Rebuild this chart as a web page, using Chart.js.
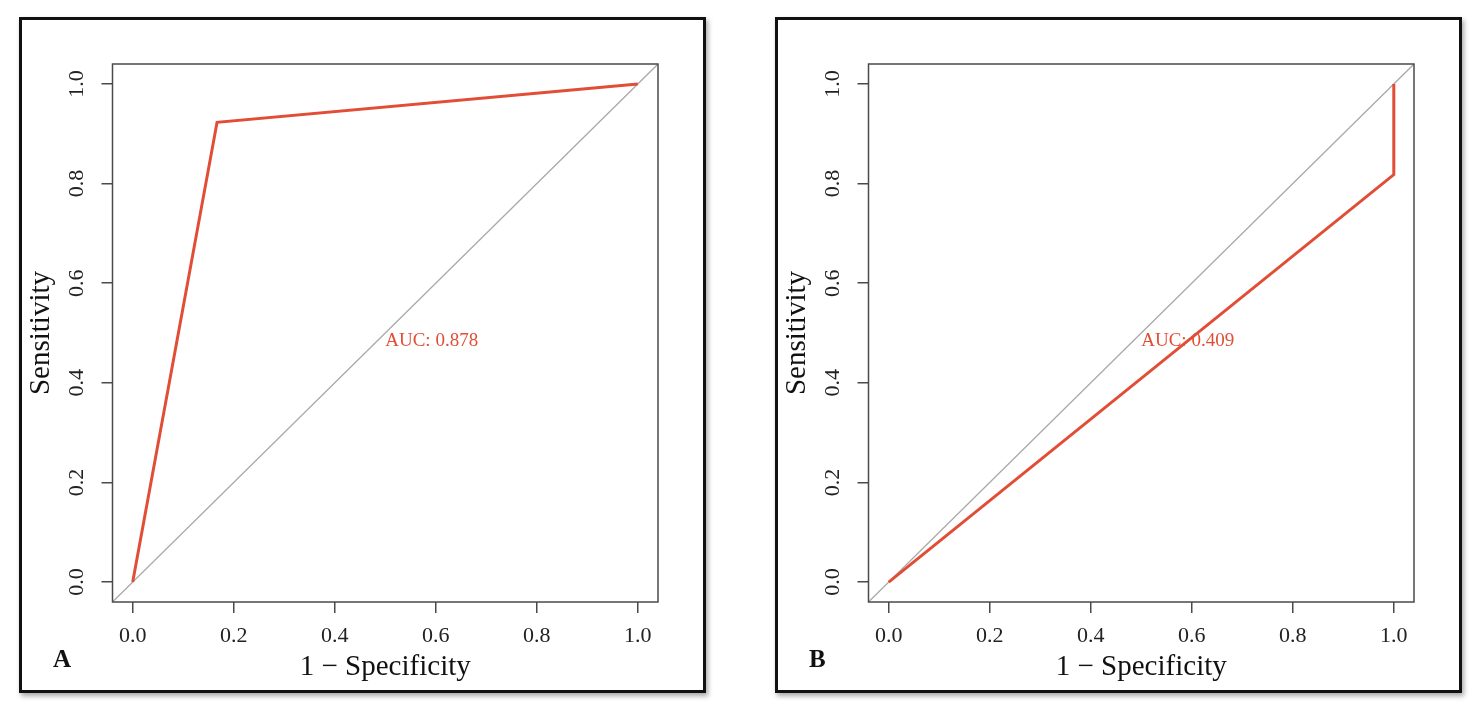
<!DOCTYPE html>
<html>
<head>
<meta charset="utf-8">
<script src="https://cdn.jsdelivr.net/npm/chart.js@4.4.1/dist/chart.umd.min.js"></script>
<style>
  html, body { margin: 0; padding: 0; background: #fff; width: 1482px; height: 719px; overflow: hidden; }
  .panel {
    position: absolute; top: 17px; width: 687px; height: 676px;
    border: 3px solid #111; box-sizing: border-box; background: #fff;
    box-shadow: 2px 3px 5px rgba(0, 0, 0, 0.35);
  }
  .panel .wrap { position: relative; width: 681px; height: 670px; }
</style>
</head>
<body>
<div class="panel" style="left:19px"><div class="wrap"><canvas id="rocA"></canvas></div></div>
<div class="panel" style="left:775px"><div class="wrap"><canvas id="rocB"></canvas></div></div>

<script>
// ── Data ─────────────────────────────────────────────────────────────
const tickValues = [0, 0.2, 0.4, 0.6, 0.8, 1.0];
const tickLabels = ['0.0', '0.2', '0.4', '0.6', '0.8', '1.0'];
const axisRange = [-0.04, 1.04];        // R pads the 0..1 range by 4%
const diagonalEnds = [-0.04, 1.04];     // y = x reference, corner to corner

const rocA_fpr = [0, 0.167, 1];
const rocA_tpr = [0, 0.923, 1];
const rocB_fpr = [0, 1, 1];
const rocB_tpr = [0, 0.818, 1];

const aucLabels = ['AUC: 0.878', 'AUC: 0.409'];
const panelLetters = ['A', 'B'];

const RED = '#e24d36';
const SERIF = '"Liberation Serif", "Times New Roman", serif';

// Box, rotated y tick labels, AUC text and panel letter
const rocDecor = {
  id: 'rocDecor',
  afterDraw(chart, args, opts) {
    const { ctx, chartArea: a, scales: { x, y } } = chart;
    ctx.save();
    ctx.strokeStyle = '#4a4a4a';
    ctx.lineWidth = 1.5;
    ctx.strokeRect(a.left, a.top, a.right - a.left, a.bottom - a.top);

    ctx.fillStyle = '#222';
    ctx.font = '22px ' + SERIF;
    ctx.textAlign = 'center';
    ctx.textBaseline = 'middle';
    tickValues.forEach((v, i) => {
      ctx.save();
      ctx.translate(a.left - 35, y.getPixelForValue(v));
      ctx.rotate(-Math.PI / 2);
      ctx.fillText(tickLabels[i], 0, 0);
      ctx.restore();
    });

    ctx.fillStyle = RED;
    ctx.font = '19px ' + SERIF;
    ctx.textAlign = 'left';
    ctx.textBaseline = 'alphabetic';
    ctx.fillText(opts.auc, x.getPixelForValue(0.5), y.getPixelForValue(0.5) + 13);

    ctx.fillStyle = '#111';
    ctx.font = 'bold 25px ' + SERIF;
    ctx.fillText(opts.letter, 31, 647);
    ctx.restore();
  }
};

function makeRoc(id, fpr, tpr, auc, letter) {
  const roc = fpr.map((v, i) => ({ x: v, y: tpr[i] }));
  const ref = diagonalEnds.map((v) => ({ x: v, y: v }));

  return new Chart(document.getElementById(id), {
    type: 'scatter',
    data: {
      datasets: [
        { data: roc, showLine: true, borderColor: RED, borderWidth: 3, pointRadius: 0, borderJoinStyle: 'miter' },
        { data: ref, showLine: true, borderColor: '#a9a9a9', borderWidth: 1.3, pointRadius: 0 },
      ],
    },
    options: {
      responsive: true,
      maintainAspectRatio: false,
      animation: false,
      events: [],
      layout: { padding: { top: 44, right: 45, left: 0, bottom: 0 } },
      plugins: {
        legend: { display: false },
        tooltip: { enabled: false },
        rocDecor: { auc, letter },
      },
      scales: {
        x: {
          type: 'linear',
          min: axisRange[0],
          max: axisRange[1],
          afterBuildTicks: (s) => { s.ticks = tickValues.map((v) => ({ value: v })); },
          afterFit: (s) => { s.height = 88; },
          border: { display: false },
          grid: { drawOnChartArea: false, tickLength: 11, color: '#4a4a4a', lineWidth: 1.5 },
          ticks: {
            padding: 10, color: '#222', maxRotation: 0, autoSkip: false,
            font: { family: SERIF, size: 22 },
            callback: (v, i) => tickLabels[i],
          },
          title: {
            display: true, text: '1 − Specificity', color: '#111',
            font: { family: SERIF, size: 29 }, padding: { top: 0, bottom: 5 },
          },
        },
        y: {
          type: 'linear',
          min: axisRange[0],
          max: axisRange[1],
          afterBuildTicks: (s) => { s.ticks = tickValues.map((v) => ({ value: v })); },
          afterFit: (s) => { s.width = 90.5; },
          border: { display: false },
          grid: { drawOnChartArea: false, tickLength: 11, color: '#4a4a4a', lineWidth: 1.5 },
          ticks: {
            padding: 10, color: 'rgba(0,0,0,0)', autoSkip: false,
            font: { family: SERIF, size: 22 },
            callback: (v, i) => tickLabels[i],
          },
          title: {
            display: true, text: 'Sensitivity', color: '#111',
            font: { family: SERIF, size: 29 }, padding: { top: 2, bottom: 0 },
          },
        },
      },
    },
    plugins: [rocDecor],
  });
}

makeRoc('rocA', rocA_fpr, rocA_tpr, aucLabels[0], panelLetters[0]);
makeRoc('rocB', rocB_fpr, rocB_tpr, aucLabels[1], panelLetters[1]);
</script>
</body>
</html>
